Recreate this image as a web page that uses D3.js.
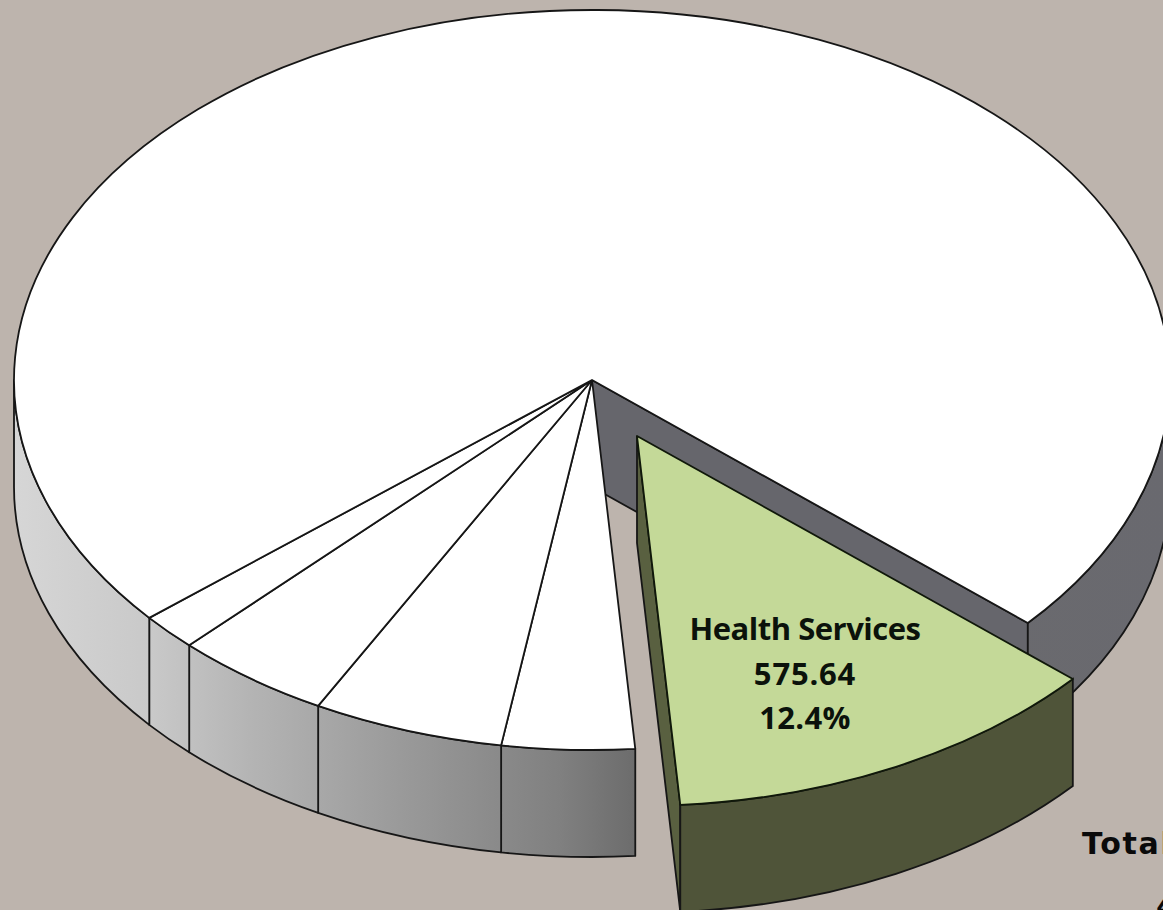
<!DOCTYPE html>
<html>
<head>
<meta charset="utf-8">
<script src="https://cdnjs.cloudflare.com/ajax/libs/d3/7.8.5/d3.min.js"></script>
<style>
html,body{margin:0;padding:0;background:#bdb4ad;overflow:hidden}
svg{display:block}
</style>
</head>
<body>
<svg id="chart" width="1163" height="910"></svg>
<script>
// Budget shares, clockwise from the detached Health Services wedge
const sliceNames = ["Health Services", "Slice B", "Slice C", "Slice D", "Slice E", "Slice F"];
const sliceValues = [575.64, 172, 248, 205, 75, 3366];
const calloutLines = ["Health Services", "575.64", "12.4%"];
const calloutSpacing = [-0.5, 0.8, 0.3];
const totalLines = ["Total", "4,642"];
const wallStops = [[14, "#d6d6d6"], [150, "#c9c9c9"], [250, "#b4b4b4"], [400, "#9a9a9a"], [560, "#808080"], [636, "#6c6c6c"], [1170, "#69696f"]];

const width = 1163, height = 910;
const cx = 592, cy = 380, rx = 578, ry = 370, depth = 107;
const pullX = 45, pullY = 56;
const startDeg = 131.06;
const rad = d => d * Math.PI / 180;

const svg = d3.select("#chart");
const defs = svg.append("defs");

// Shading of the outer wall runs from light on the left to dark at the front
const xPct = d3.scaleLinear().domain([14, 1170]).range([0, 100]);
defs.append("linearGradient")
  .attr("id", "wallShade")
  .attr("gradientUnits", "userSpaceOnUse")
  .attr("x1", 14).attr("x2", 1170).attr("y1", 0).attr("y2", 0)
  .selectAll("stop").data(wallStops).join("stop")
  .attr("offset", d => xPct(d[0]) + "%")
  .attr("stop-color", d => d[1]);

const pie = d3.pie().sort(null).startAngle(rad(startDeg)).endAngle(rad(startDeg + 360));
const arcs = pie(sliceValues);

// Flattened-disc projection
const sx = d3.scaleLinear().domain([-1, 1]).range([-rx, rx]);
const sy = d3.scaleLinear().domain([-1, 1]).range([-ry, ry]);
const project = (a, ox = 0, oy = 0, z = 0) => [
  cx + ox + sx(Math.sin(a)),
  cy + oy + sy(-Math.cos(a)) + z
];

function topPath(a0, a1, ox = 0, oy = 0) {
  const p0 = project(a0, ox, oy), p1 = project(a1, ox, oy);
  const large = a1 - a0 > Math.PI ? 1 : 0;
  return `M${cx + ox},${cy + oy}L${p0}A${rx},${ry} 0 ${large} 1 ${p1}Z`;
}

function wallPath(a0, a1, ox = 0, oy = 0) {
  const p0 = project(a0, ox, oy), p1 = project(a1, ox, oy);
  const q0 = project(a0, ox, oy, depth), q1 = project(a1, ox, oy, depth);
  return `M${p0}A${rx},${ry} 0 0 1 ${p1}L${q1}A${rx},${ry} 0 0 0 ${q0}Z`;
}

// Parts of a slice's rim that face the viewer
function visibleRim(a0, a1) {
  const spans = [[rad(90), rad(270)], [rad(450), rad(630)]];
  return spans
    .map(([s, e]) => [Math.max(a0, s), Math.min(a1, e)])
    .filter(([s, e]) => e > s);
}

const lineColor = "#161616", lineWidth = 1.8;
const wedge = arcs[0];
const rest = arcs.slice(1);

// Cut face left open by the pulled-out wedge
const cutTop = project(wedge.startAngle);
const cutBottom = project(wedge.startAngle, 0, 0, depth);
svg.append("path")
  .attr("d", `M${cx},${cy}L${cutTop}L${cutBottom}L${cx},${cy + depth}Z`)
  .attr("fill", "#66666c")
  .attr("stroke", lineColor)
  .attr("stroke-width", lineWidth);

// Outer wall of the remaining slices
svg.append("g").selectAll("path")
  .data(rest.flatMap(d => visibleRim(d.startAngle, d.endAngle)))
  .join("path")
  .attr("d", d => wallPath(d[0], d[1]))
  .attr("fill", "url(#wallShade)")
  .attr("stroke", lineColor)
  .attr("stroke-width", lineWidth)
  .attr("stroke-linejoin", "round");

// Top faces of the remaining slices
svg.append("g").selectAll("path")
  .data(rest)
  .join("path")
  .attr("d", d => topPath(d.startAngle, d.endAngle))
  .attr("fill", "#ffffff")
  .attr("stroke", lineColor)
  .attr("stroke-width", lineWidth)
  .attr("stroke-linejoin", "round");

// Health Services wedge: side face, rim, then top
const e0 = project(wedge.endAngle, pullX, pullY);
const e1 = project(wedge.endAngle, pullX, pullY, depth);
svg.append("path")
  .attr("d", `M${cx + pullX},${cy + pullY}L${e0}L${e1}L${cx + pullX},${cy + pullY + depth}Z`)
  .attr("fill", "#596040")
  .attr("stroke", lineColor)
  .attr("stroke-width", lineWidth);
svg.append("path")
  .attr("d", wallPath(wedge.startAngle, wedge.endAngle, pullX, pullY))
  .attr("fill", "#4f5439")
  .attr("stroke", lineColor)
  .attr("stroke-width", lineWidth);
svg.append("path")
  .attr("d", topPath(wedge.startAngle, wedge.endAngle, pullX, pullY))
  .attr("fill", "#c4d998")
  .attr("stroke", "#10180a")
  .attr("stroke-width", lineWidth)
  .attr("stroke-linejoin", "round");

// Wedge callout
svg.append("g").selectAll("text")
  .data(calloutLines)
  .join("text")
  .attr("x", 805)
  .attr("y", (d, i) => 640 + i * 44.5)
  .attr("text-anchor", "middle")
  .attr("font-family", "'Open Sans', sans-serif")
  .attr("font-weight", 700)
  .attr("font-size", 31)
  .attr("letter-spacing", (d, i) => calloutSpacing[i])
  .attr("fill", "#0b120b")
  .text(d => d);

// Total note, running off the right-hand edge
svg.append("g").selectAll("text")
  .data(totalLines)
  .join("text")
  .attr("x", (d, i) => i === 0 ? 1082 : 1156)
  .attr("y", (d, i) => i === 0 ? 854 : 917)
  .attr("font-family", "'DejaVu Sans', sans-serif")
  .attr("font-weight", 700)
  .attr("font-size", 30)
  .attr("letter-spacing", 1.7)
  .attr("fill", "#0a0a0a")
  .text(d => d);
</script>
</body>
</html>
